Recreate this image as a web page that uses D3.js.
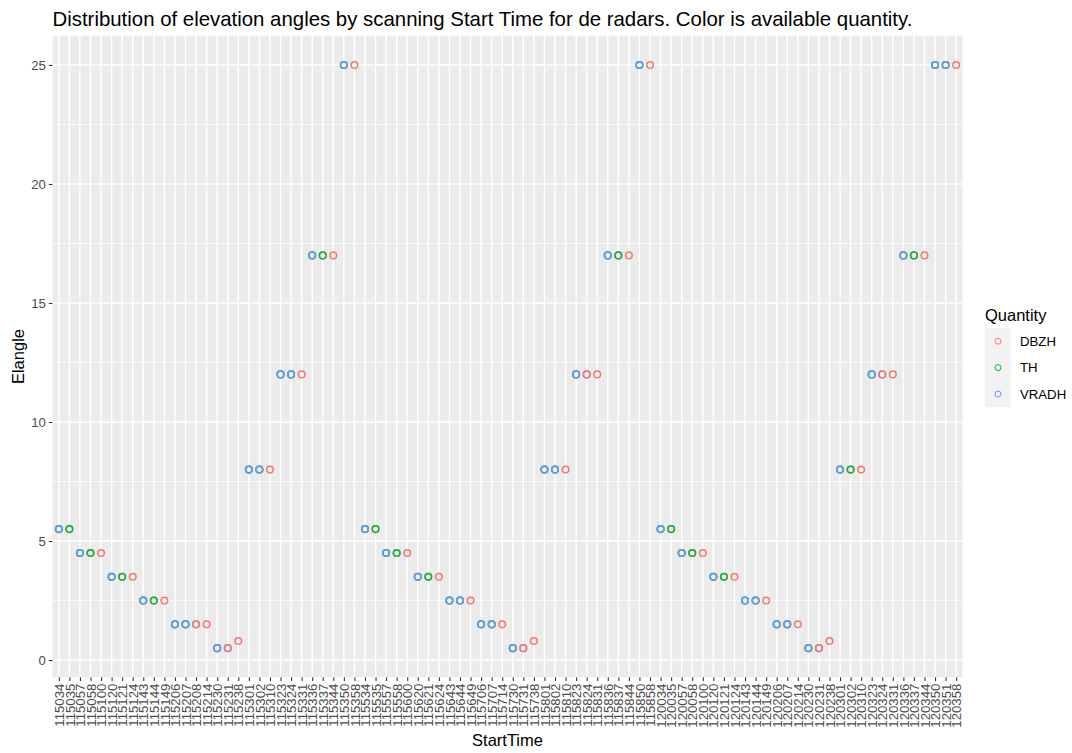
<!DOCTYPE html>
<html>
<head>
<meta charset="utf-8">
<script src="https://cdn.jsdelivr.net/npm/d3@7"></script>
<style>
  body { margin: 0; background: #fff; }
  text { font-family: "Liberation Sans", Arial, Helvetica, sans-serif; }
</style>
</head>
<body>
<div id="chart"></div>
<script>
// scan start times (x categories)
const startTimes = [
  "115034","115035","115057","115058","115100","115120","115121","115124","115143","115144",
  "115149","115206","115207","115208","115214","115230","115231","115238","115301","115302",
  "115310","115323","115324","115331","115336","115337","115344","115350","115358",
  "115534","115535","115557","115558","115600","115620","115621","115624","115643","115644",
  "115649","115706","115707","115714","115730","115731","115738","115801","115802","115810",
  "115823","115824","115831","115836","115837","115844","115850","115858",
  "120034","120035","120057","120058","120100","120120","120121","120124","120143","120144",
  "120149","120206","120207","120214","120230","120231","120238","120301","120302","120310",
  "120323","120324","120331","120336","120337","120344","120350","120351","120358"
];

// elevation angle of each scan
const elangles = [
  5.5,5.5,4.5,4.5,4.5,3.5,3.5,3.5,2.5,2.5,
  2.5,1.5,1.5,1.5,1.5,0.5,0.5,0.8,8,8,
  8,12,12,12,17,17,17,25,25,
  5.5,5.5,4.5,4.5,4.5,3.5,3.5,3.5,2.5,2.5,
  2.5,1.5,1.5,1.5,0.5,0.5,0.8,8,8,8,
  12,12,12,17,17,17,25,25,
  5.5,5.5,4.5,4.5,4.5,3.5,3.5,3.5,2.5,2.5,
  2.5,1.5,1.5,1.5,0.5,0.5,0.8,8,8,8,
  12,12,12,17,17,17,25,25,25
];

// quantities found in each scan, in plotting order (last one ends on top)
const quantities = [
  "DBZH TH VRADH","DBZH TH","DBZH TH VRADH","DBZH TH","DBZH","DBZH TH VRADH","DBZH TH","DBZH","DBZH TH VRADH","DBZH TH",
  "DBZH","DBZH TH VRADH","DBZH TH VRADH","VRADH DBZH","DBZH","DBZH TH VRADH","VRADH DBZH","DBZH","DBZH TH VRADH","DBZH TH VRADH",
  "DBZH","DBZH TH VRADH","DBZH TH VRADH","DBZH","DBZH TH VRADH","DBZH TH","DBZH","DBZH TH VRADH","DBZH",
  "DBZH TH VRADH","DBZH TH","DBZH TH VRADH","DBZH TH","DBZH","DBZH TH VRADH","DBZH TH","DBZH","DBZH TH VRADH","DBZH TH VRADH",
  "DBZH","DBZH TH VRADH","DBZH TH VRADH","DBZH","DBZH TH VRADH","VRADH DBZH","DBZH","DBZH TH VRADH","DBZH TH VRADH","DBZH",
  "DBZH TH VRADH","VRADH DBZH","DBZH","DBZH TH VRADH","DBZH TH","DBZH","DBZH TH VRADH","DBZH",
  "DBZH TH VRADH","DBZH TH","DBZH TH VRADH","DBZH TH","DBZH","DBZH TH VRADH","DBZH TH","DBZH","DBZH TH VRADH","DBZH TH VRADH",
  "DBZH","DBZH TH VRADH","DBZH TH VRADH","DBZH","DBZH TH VRADH","VRADH DBZH","DBZH","DBZH TH VRADH","DBZH TH","DBZH",
  "DBZH TH VRADH","VRADH DBZH","DBZH","DBZH TH VRADH","DBZH TH","DBZH","DBZH TH VRADH","DBZH TH VRADH","DBZH"
];

const quantityNames = ["DBZH", "TH", "VRADH"];
const quantityColors = ["#F8766D", "#00BA38", "#619CFF"];
const yMajor = [0, 5, 10, 15, 20, 25];
const yMinor = [2.5, 7.5, 12.5, 17.5, 22.5];

const width = 1072, height = 753;
const panel = { left: 52.5, right: 962.5, top: 35.8, bottom: 677.3 };

const svg = d3.select("#chart").append("svg")
  .attr("width", width)
  .attr("height", height);

const x = d3.scalePoint()
  .domain(startTimes)
  .range([panel.left, panel.right])
  .padding(0.6);

// ggplot style 5% expansion around the data range
const yMin = d3.min(elangles), yMax = d3.max(elangles);
const pad = (yMax - yMin) * 0.05;
const y = d3.scaleLinear()
  .domain([yMin - pad, yMax + pad])
  .range([panel.bottom, panel.top]);

const color = d3.scaleOrdinal().domain(quantityNames).range(quantityColors);

// panel background
svg.append("rect")
  .attr("x", panel.left).attr("y", panel.top)
  .attr("width", panel.right - panel.left)
  .attr("height", panel.bottom - panel.top)
  .attr("fill", "#EBEBEB");

const grid = svg.append("g");
grid.selectAll(".minor").data(yMinor).enter().append("line")
  .attr("x1", panel.left).attr("x2", panel.right)
  .attr("y1", d => y(d)).attr("y2", d => y(d))
  .attr("stroke", "#fff").attr("stroke-width", 0.7);
grid.selectAll(".major").data(yMajor).enter().append("line")
  .attr("x1", panel.left).attr("x2", panel.right)
  .attr("y1", d => y(d)).attr("y2", d => y(d))
  .attr("stroke", "#fff").attr("stroke-width", 1.4);
grid.selectAll(".vmajor").data(startTimes).enter().append("line")
  .attr("x1", d => x(d)).attr("x2", d => x(d))
  .attr("y1", panel.top).attr("y2", panel.bottom)
  .attr("stroke", "#fff").attr("stroke-width", 1.4);

// flatten to one row per (time, quantity)
const points = [];
startTimes.forEach((t, i) => {
  quantities[i].split(" ").forEach(q => {
    points.push({ time: t, elangle: elangles[i], quantity: q });
  });
});

svg.append("g").selectAll("circle").data(points).enter().append("circle")
  .attr("cx", d => x(d.time))
  .attr("cy", d => y(d.elangle))
  .attr("r", 3.3)
  .attr("fill", "none")
  .attr("stroke", d => color(d.quantity))
  .attr("stroke-width", 1.5);

// axes
const xAxis = svg.append("g")
  .attr("transform", `translate(0,${panel.bottom})`)
  .call(d3.axisBottom(x).tickSize(3.7).tickPadding(2.9));
xAxis.select(".domain").remove();
xAxis.selectAll("line").attr("stroke", "#333333").attr("stroke-width", 1.07);
xAxis.selectAll("text")
  .attr("fill", "#4D4D4D")
  .style("font-size", "13.2px")
  .attr("transform", "rotate(-90)")
  .attr("x", -6.4)
  .attr("y", 0)
  .attr("dy", "0.35em")
  .attr("text-anchor", "end");

const yAxis = svg.append("g")
  .attr("transform", `translate(${panel.left},0)`)
  .call(d3.axisLeft(y).tickValues(yMajor).tickFormat(d3.format("d")).tickSize(3.7).tickPadding(2.9));
yAxis.select(".domain").remove();
yAxis.selectAll("line").attr("stroke", "#333333").attr("stroke-width", 1.07);
yAxis.selectAll("text").attr("fill", "#4D4D4D").style("font-size", "13.2px");

// titles
svg.append("text")
  .attr("x", panel.left).attr("y", 26)
  .style("font-size", "20.4px")
  .attr("fill", "#000")
  .text("Distribution of elevation angles by scanning Start Time for de radars. Color is available quantity.");

svg.append("text")
  .attr("x", (panel.left + panel.right) / 2).attr("y", 746)
  .attr("text-anchor", "middle")
  .style("font-size", "16.5px")
  .text("StartTime");

svg.append("text")
  .attr("transform", `translate(24,${(panel.top + panel.bottom) / 2}) rotate(-90)`)
  .attr("text-anchor", "middle")
  .style("font-size", "16.5px")
  .text("Elangle");

// legend
const legend = svg.append("g").attr("transform", "translate(985,0)");
legend.append("text")
  .attr("x", 0).attr("y", 321)
  .style("font-size", "16.5px")
  .text("Quantity");

const keys = legend.selectAll(".key").data(quantityNames).enter().append("g")
  .attr("transform", (d, i) => `translate(0,${328 + i * 26.4})`);
keys.append("rect")
  .attr("width", 26).attr("height", 26.4)
  .attr("fill", "#F2F2F2");
keys.append("circle")
  .attr("cx", 13).attr("cy", 13.2).attr("r", 3)
  .attr("fill", "none")
  .attr("stroke", d => color(d))
  .attr("stroke-width", 1);
keys.append("text")
  .attr("x", 35).attr("y", 13.2).attr("dy", "0.35em")
  .style("font-size", "13.2px")
  .text(d => d);
</script>
</body>
</html>
